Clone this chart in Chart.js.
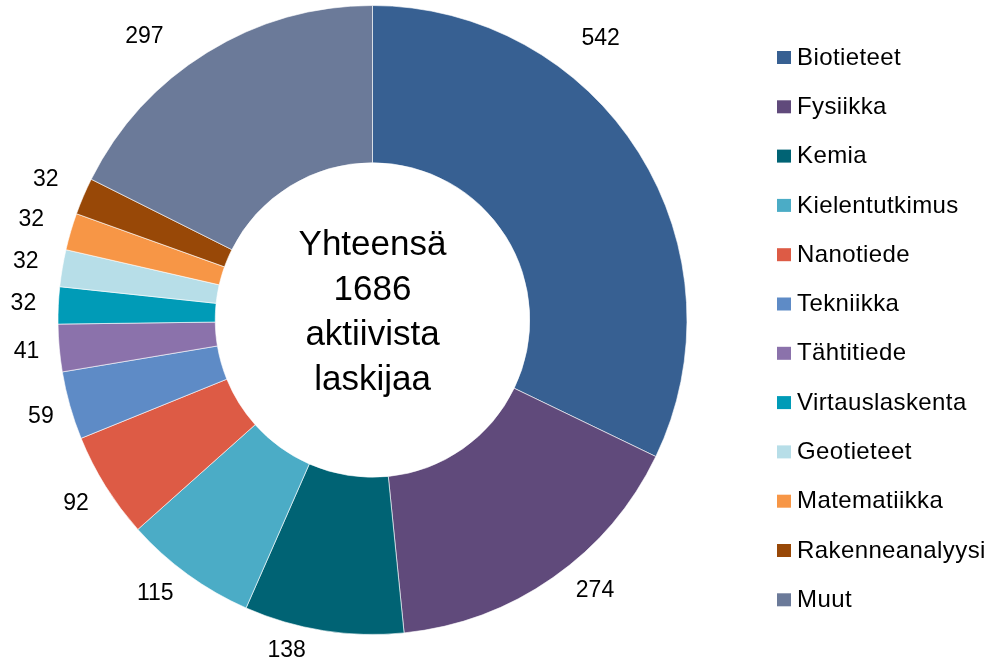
<!DOCTYPE html>
<html>
<head>
<meta charset="utf-8">
<script src="https://cdn.jsdelivr.net/npm/chart.js@4.4.0/dist/chart.umd.min.js"></script>
<style>
  html, body { margin: 0; padding: 0; background: #fff; }
  #canvas { display: block; }
</style>
</head>
<body>
<canvas id="canvas" width="992" height="663"></canvas>
<script>
var LABELS = ['Biotieteet', 'Fysiikka', 'Kemia', 'Kielentutkimus', 'Nanotiede', 'Tekniikka',
  'Tähtitiede', 'Virtauslaskenta', 'Geotieteet', 'Matematiikka', 'Rakenneanalyysi', 'Muut'];
var VALUES = [542, 274, 138, 115, 92, 59, 41, 32, 32, 32, 32, 297];
var COLORS = ['#376092', '#604a7b', '#006374', '#4bacc6', '#dd5b45', '#5e8bc6',
  '#8b72ab', '#009bb7', '#b7dee8', '#f79646', '#984807', '#6b7a99'];
var CENTER_TEXT = ['Yhteensä', '1686', 'aktiivista', 'laskijaa'];

var FONT = '"Liberation Sans", Arial, sans-serif';

// where each value label sits: fraction along its slice, and gap outside the ring
var labelAt = [0.337, 0.425, 0.69, 0.6, 0.51, 0.46, 0.48, 0.5, 0.5, 0.5, 0.5, 0.387];
var labelGap = [48, 36, 27, 35, 34, 31, 33, 35, 37, 41, 41, 49];

var extras = {
  id: 'extras',
  afterDraw: function(chart) {
    var ctx = chart.ctx;
    var arcs = chart.getDatasetMeta(0).data;
    ctx.save();
    ctx.fillStyle = '#000';
    ctx.textAlign = 'center';
    ctx.textBaseline = 'middle';

    // value labels
    ctx.font = '23px ' + FONT;
    arcs.forEach(function(arc, i) {
      var a = arc.startAngle + (arc.endAngle - arc.startAngle) * labelAt[i];
      var r = arc.outerRadius + labelGap[i];
      ctx.fillText(String(VALUES[i]), arc.x + Math.cos(a) * r, arc.y + Math.sin(a) * r);
    });

    // centre text
    var cx = arcs[0].x, cy = arcs[0].y;
    ctx.font = '35px ' + FONT;
    var lh = 45;
    var y0 = cy - 7 - lh * (CENTER_TEXT.length - 1) / 2;
    CENTER_TEXT.forEach(function(t, i) {
      ctx.fillText(t, cx, y0 + i * lh);
    });

    // legend
    ctx.font = '24px ' + FONT;
    ctx.letterSpacing = '0.4px';
    ctx.textAlign = 'left';
    LABELS.forEach(function(l, i) {
      var y = 58 + i * 49.3;
      ctx.fillStyle = COLORS[i];
      ctx.fillRect(777, y - 7, 14, 13);
      ctx.fillStyle = '#000';
      ctx.fillText(l, 797, y);
    });
    ctx.restore();
  }
};

window.onload = function() {
  var ctx = document.getElementById('canvas').getContext('2d');
  window.myChart = new Chart(ctx, {
    type: 'doughnut',
    data: {
      labels: LABELS,
      datasets: [{
        data: VALUES,
        backgroundColor: COLORS,
        borderColor: 'rgba(255,255,255,0.6)',
        borderWidth: 1,
        hoverOffset: 0
      }]
    },
    options: {
      responsive: false,
      animation: false,
      cutout: '50%',
      layout: { padding: { left: 57, right: 304, top: 5, bottom: 28 } },
      plugins: {
        legend: { display: false },
        tooltip: { enabled: false }
      }
    },
    plugins: [extras]
  });
};
</script>
</body>
</html>
